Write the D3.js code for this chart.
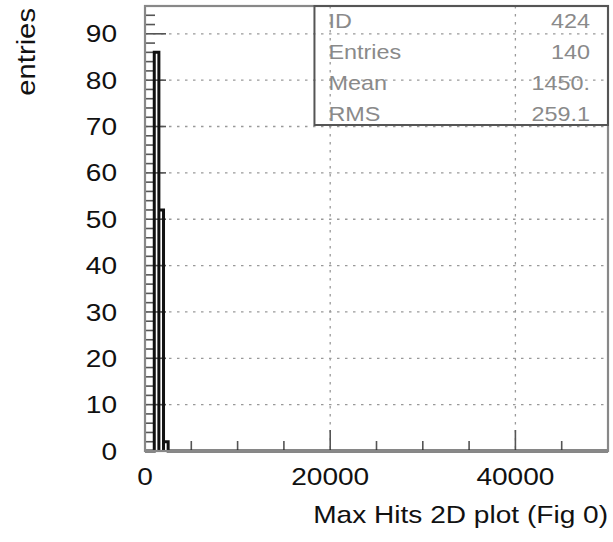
<!DOCTYPE html>
<html lang="en">
<head>
  <meta charset="UTF-8">
  <title>Max Hits 2D plot (Fig 0)</title>
  <style>
    html, body { margin: 0; background: #fff; }
    text { font-family: 'Liberation Sans', Arial, sans-serif; fill: #111; }
    .grid { stroke: #999; stroke-width: 1.3; stroke-dasharray: 2.5 5.5; }
    .frame { fill: none; stroke: #888; stroke-width: 2.2; }
    .tick { stroke: #555; stroke-width: 1.6; }
    .hist { fill: none; stroke: #111; stroke-width: 3; }
    .stats text { fill: #8a8a8a; }
  </style>
</head>
<body>
<svg id="chart" width="613" height="542" viewBox="0 0 613 542"></svg>
<script src="https://d3js.org/d3.v7.min.js"></script>
<script>
// histogram bins (only non-empty bins listed), bin width 500
const binWidth = 500;
const binLow = [1000, 1500, 2000];
const counts = [86, 52, 2];

const xMax = 50000;
const yMax = 96;
const xMajor = [0, 20000, 40000];
const xMinorStep = 5000;
const yMajor = [0, 10, 20, 30, 40, 50, 60, 70, 80, 90];
const yMinorStep = 2;

const statLabels = ["ID", "Entries", "Mean", "RMS"];
const statValues = ["424", "140", "1450.", "259.1"];

const xTitle = "Max Hits 2D plot (Fig 0)";
const yTitle = "entries";

const svg = d3.select("#chart"),
    margin = {top: 6, right: 5, bottom: 91, left: 145},
    width = +svg.attr("width") - margin.left - margin.right,
    height = +svg.attr("height") - margin.top - margin.bottom;

const x = d3.scaleLinear().domain([0, xMax]).range([0, width]);
const y = d3.scaleLinear().domain([0, yMax]).range([height, 0]);

const sx = 1.17; // glyphs in the original are a bit wider

const g = svg.append("g")
    .attr("transform", "translate(" + margin.left + "," + margin.top + ")");

// dotted grid at major ticks
g.selectAll(".hgrid").data(yMajor.filter(d => d > 0)).enter()
  .append("line").attr("class", "grid")
    .attr("x1", 0).attr("x2", width)
    .attr("y1", d => y(d)).attr("y2", d => y(d));

g.selectAll(".vgrid").data(xMajor.filter(d => d > 0)).enter()
  .append("line").attr("class", "grid")
    .attr("x1", d => x(d)).attr("x2", d => x(d))
    .attr("y1", 0).attr("y2", height);

// inward ticks
const yMinor = d3.range(0, yMax + 0.001, yMinorStep);
g.selectAll(".ytick").data(yMinor).enter()
  .append("line").attr("class", "tick")
    .attr("x1", 0)
    .attr("x2", d => d % 10 === 0 ? 21 : 10)
    .attr("y1", d => y(d)).attr("y2", d => y(d));

const xMinor = d3.range(0, xMax + 1, xMinorStep);
g.selectAll(".xtick").data(xMinor).enter()
  .append("line").attr("class", "tick")
    .attr("y1", height)
    .attr("y2", d => height - (d % 20000 === 0 ? 21 : 10))
    .attr("x1", d => x(d)).attr("x2", d => x(d));

// tick labels
g.selectAll(".ylab").data(yMajor).enter()
  .append("text")
    .attr("transform", d => "translate(-28," + (y(d) + 8.6) + ") scale(" + sx + ",1)")
    .attr("text-anchor", "end")
    .style("font-size", "24px")
    .text(d => d);

g.selectAll(".xlab").data(xMajor).enter()
  .append("text")
    .attr("transform", d => "translate(" + x(d) + "," + (height + 34) + ") scale(" + sx + ",1)")
    .attr("text-anchor", "middle")
    .style("font-size", "24px")
    .text(d => d);

// histogram outline
const pts = [[0, 0]];
binLow.forEach(function (lo, i) {
  pts.push([lo, 0], [lo, counts[i]], [lo + binWidth, counts[i]], [lo + binWidth, 0]);
});
pts.push([xMax, 0]);

const line = d3.line()
    .x(d => x(d[0]))
    .y(d => y(d[1]));

g.append("path").datum(pts).attr("class", "hist").attr("d", line);

// frame
g.append("rect").attr("class", "frame")
    .attr("width", width).attr("height", height);

// stats box
const stats = g.append("g").attr("class", "stats");
const boxX = x(18300), boxW = width - boxX, rowH = 31;
stats.append("rect")
    .attr("x", boxX).attr("y", 0)
    .attr("width", boxW).attr("height", rowH * statLabels.length - 5)
    .attr("fill", "none").attr("stroke", "#555").attr("stroke-width", 2);

stats.selectAll(".slab").data(statLabels).enter()
  .append("text")
    .attr("transform", (d, i) => "translate(" + (boxX + 14) + "," + (22 + i * rowH) + ") scale(" + sx + ",1)")
    .style("font-size", "20px")
    .text(d => d);

stats.selectAll(".sval").data(statValues).enter()
  .append("text")
    .attr("transform", (d, i) => "translate(" + (width - 18) + "," + (22 + i * rowH) + ") scale(" + sx + ",1)")
    .attr("text-anchor", "end")
    .style("font-size", "20px")
    .text(d => d);

// axis titles
svg.append("text")
    .attr("transform", "translate(" + (margin.left + width) + ",523) scale(" + sx + ",1)")
    .attr("text-anchor", "end")
    .style("font-size", "24px")
    .text(xTitle);

svg.append("text")
    .attr("transform", "translate(35,8) rotate(-90) scale(" + sx + ",1)")
    .attr("text-anchor", "end")
    .style("font-size", "25px")
    .text(yTitle);
</script>
</body>
</html>
